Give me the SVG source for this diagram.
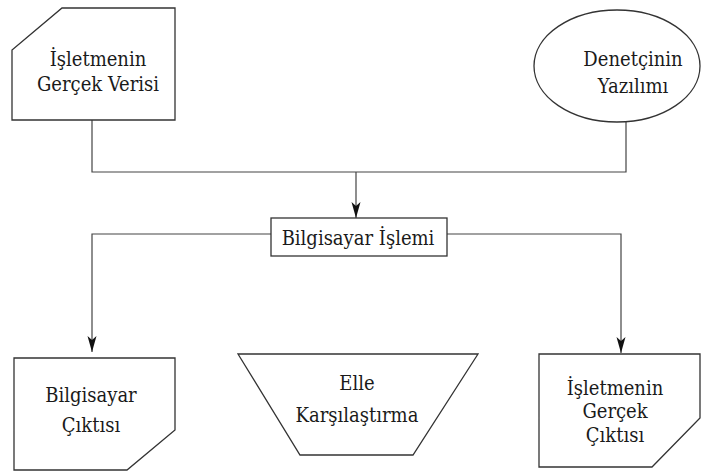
<svg xmlns="http://www.w3.org/2000/svg" width="701" height="475" viewBox="0 0 701 475">
<defs>
<style>
.shape{fill:#fff;stroke:#333;stroke-width:1.3}
.conn{fill:none;stroke:#444;stroke-width:1.2}
.t{font-family:'DejaVu Serif Condensed','DejaVu Serif',serif;font-stretch:condensed;font-size:20px;fill:#1a1a1a;text-anchor:middle}
</style>
<marker id="arr" markerWidth="16" markerHeight="10" refX="16" refY="5" orient="auto" markerUnits="userSpaceOnUse" viewBox="0 0 16 10">
<path d="M0,0.5 L4,5 L0,9.5 L16,5 Z" fill="#111"/>
</marker>
</defs>
<rect width="701" height="475" fill="#fff"/>
<g id="connectors">
<path class="conn" d="M92,120 V172 H626 V121"/>
<path class="conn" d="M356,172 V218" marker-end="url(#arr)"/>
<path class="conn" d="M271,234 H92 V352" marker-end="url(#arr)"/>
<path class="conn" d="M447,234 H621 V353" marker-end="url(#arr)"/>
</g>
<g id="isletme-verisi">
<path class="shape" d="M62,8 H175 V120 H12 V50 Z"/>
<text class="t" x="98" y="66">İşletmenin</text>
<text class="t" x="98" y="91">Gerçek Verisi</text>
</g>
<g id="denetci-yazilimi">
<ellipse class="shape" cx="617" cy="66" rx="83" ry="56"/>
<text class="t" x="633" y="66">Denetçinin</text>
<text class="t" x="633" y="93">Yazılımı</text>
</g>
<g id="bilgisayar-islemi">
<rect class="shape" x="271" y="218" width="176" height="38"/>
<text class="t" x="358" y="245">Bilgisayar İşlemi</text>
</g>
<g id="bilgisayar-ciktisi">
<path class="shape" d="M14,358 H175 V430 L127,470 H14 Z"/>
<text class="t" x="91" y="402">Bilgisayar</text>
<text class="t" x="91" y="432">Çıktısı</text>
</g>
<g id="elle-karsilastirma">
<path class="shape" d="M238,354 H478 L413,455 H300 Z"/>
<text class="t" x="357" y="390">Elle</text>
<text class="t" x="357" y="422">Karşılaştırma</text>
</g>
<g id="isletme-ciktisi">
<path class="shape" d="M539,354 H700 V418 L652,467 H539 Z"/>
<text class="t" x="615" y="395">İşletmenin</text>
<text class="t" x="615" y="418">Gerçek</text>
<text class="t" x="615" y="442">Çıktısı</text>
</g>
</svg>
